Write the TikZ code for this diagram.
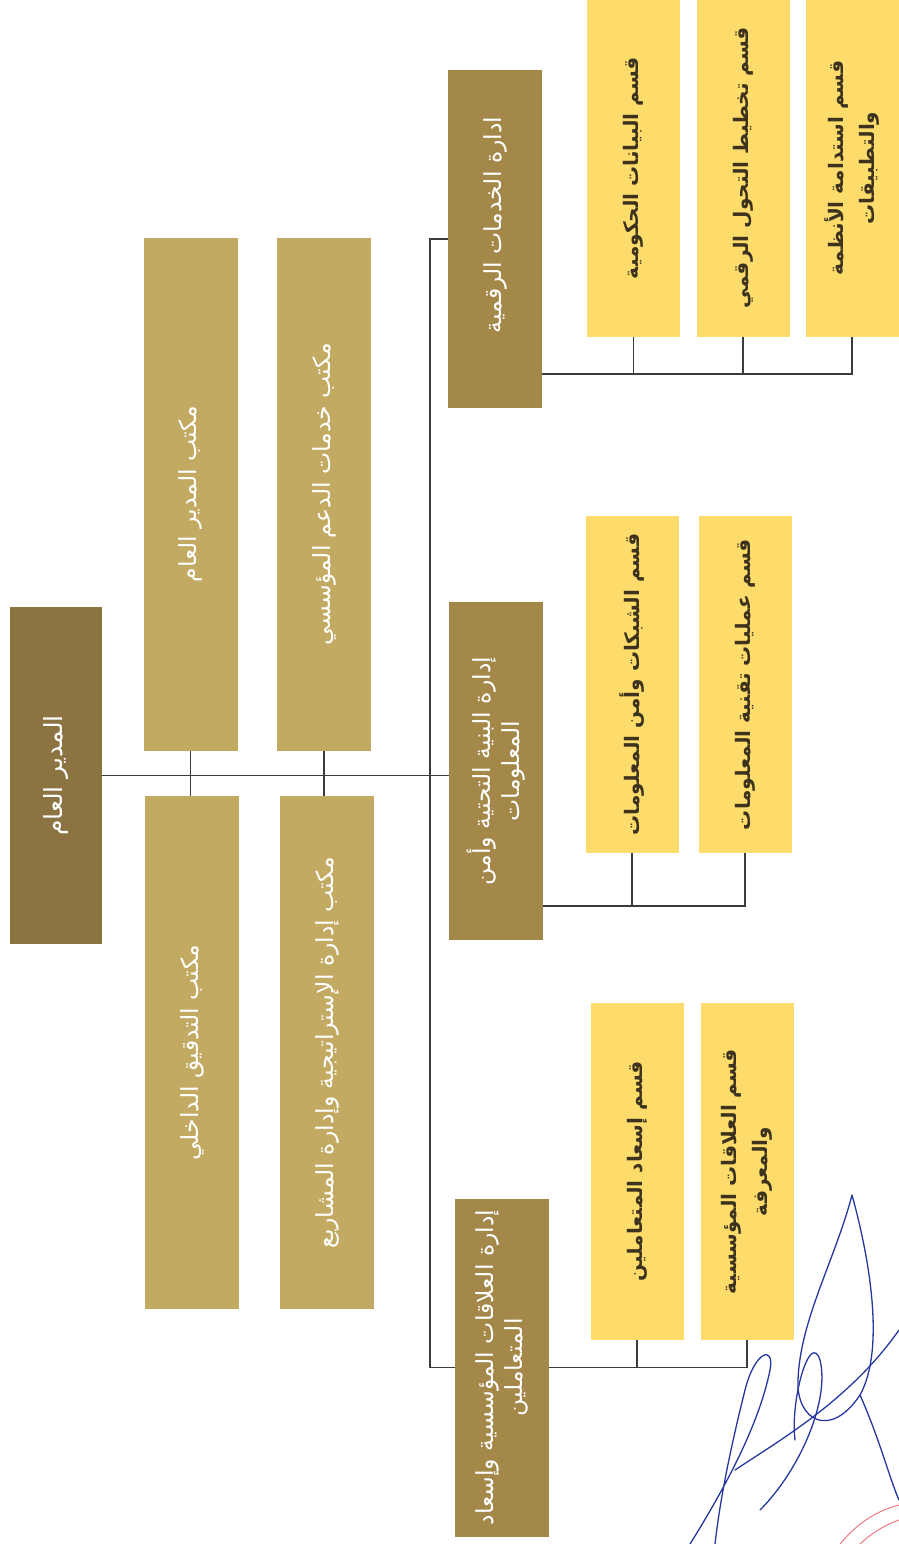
\documentclass[tikz,border=0pt]{standalone}
\usepackage{fontspec}
\TeXXeTstate=1
\newfontfamily\arabicfont[Script=Arabic]{DejaVu Sans}
\newcommand{\ar}[1]{\beginR #1\endR}
\definecolor{gmc}{RGB}{139,115,66}
\definecolor{depc}{RGB}{163,136,74}
\definecolor{offc}{RGB}{194,170,98}
\definecolor{yelc}{RGB}{254,220,108}
\definecolor{ytxt}{RGB}{60,50,30}
\definecolor{linec}{RGB}{60,60,60}
\definecolor{sigc}{RGB}{40,55,160}
\definecolor{stampc}{RGB}{235,120,130}
\tikzset{
  boxbase/.style={draw=none, inner sep=0pt, outer sep=0pt},
  gmbox/.style={boxbase, fill=gmc, minimum width=92pt, minimum height=337pt},
  offbox/.style={boxbase, fill=offc, minimum width=94pt, minimum height=513pt},
  depbox/.style={boxbase, fill=depc, minimum width=94pt, minimum height=338pt},
  yelbox/.style={boxbase, fill=yelc, minimum width=93pt, minimum height=337pt},
  wlbl/.style={rotate=90, align=center, inner sep=0pt, text=white,
    font=\arabicfont\fontsize{23.5}{29}\selectfont},
  ylbl/.style={rotate=90, align=center, inner sep=0pt, text=ytxt,
    font=\arabicfont\bfseries\fontsize{20}{31}\selectfont},
  conn/.style={draw=linec, line width=1.1pt},
  sig/.style={draw=sigc, line width=1.3pt, line cap=round}
}
\begin{document}
\begin{tikzpicture}[x=1pt,y=-1pt]
\useasboundingbox (0,0) rectangle (899,1544);
% general manager
\node[gmbox] (GM) at (56,775.5) {};
\node[wlbl, font=\arabicfont\fontsize{25}{28}\selectfont] (tGM) at (GM) {\ar{المدير العام}};
% offices
\node[offbox] (O1) at (190.5,494) {};
\node[offbox] (O2) at (324,494) {};
\node[offbox] (O3) at (192,1052.5) {};
\node[offbox] (O4) at (327,1052.5) {};
\node[wlbl] (tO1) at (O1) {\ar{مكتب المدير العام}};
\node[wlbl] (tO2) at (O2) {\ar{مكتب خدمات الدعم المؤسسي}};
\node[wlbl] (tO3) at (O3) {\ar{مكتب التدقيق الداخلي}};
\node[wlbl] (tO4) at (O4) {\ar{مكتب إدارة الإستراتيجية وإدارة المشاريع}};
% departments
\node[depbox] (D1) at (495,239) {};
\node[depbox] (D2) at (496,771) {};
\node[depbox] (D3) at (501.5,1367.5) {};
\node[wlbl] (tD1) at ([yshift=14pt]D1.center) {\ar{ادارة الخدمات الرقمية}};
\node[wlbl] (tD2) at (D2) {\ar{إدارة البنية التحتية وأمن}\\\ar{المعلومات}};
\node[wlbl] (tD3) at (D3) {\ar{إدارة العلاقات المؤسسية وإسعاد}\\\ar{المتعاملين}};
% sections
\node[yelbox] (Y1) at (633.5,168) {};
\node[yelbox] (Y2) at (743,168) {};
\node[yelbox] (Y3) at (852,168) {};
\node[yelbox] (Y4) at (632,684.5) {};
\node[yelbox] (Y5) at (745,684.5) {};
\node[yelbox] (Y6) at (637,1171.5) {};
\node[yelbox] (Y7) at (747,1171.5) {};
\node[ylbl] (tY1) at (Y1) {\ar{قسم البيانات الحكومية}};
\node[ylbl] (tY2) at (Y2) {\ar{قسم تخطيط التحول الرقمي}};
\node[ylbl] (tY3) at (Y3) {\ar{قسم استدامة الأنظمة}\\\ar{والتطبيقات}};
\node[ylbl] (tY4) at (Y4) {\ar{قسم الشبكات وأمن المعلومات}};
\node[ylbl] (tY5) at (Y5) {\ar{قسم عمليات تقنية المعلومات}};
\node[ylbl] (tY6) at (Y6) {\ar{قسم إسعاد المتعاملين}};
\node[ylbl] (tY7) at (Y7) {\ar{قسم العلاقات المؤسسية}\\\ar{والمعرفة}};
% connectors
\coordinate (T) at (430,775);
\draw[conn] (GM.east) -- (GM.east -| D2.west);
\draw[conn] (O1.south) -- (O1.south |- O3.north);
\draw[conn] (O2.south) -- (O2.south |- O4.north);
\draw[conn] (D1.west) -- (D1.west -| T) -- (D3.west -| T) -- (D3.west);
\coordinate (b1) at (852,374);
\draw[conn] (D1.east |- b1) -- (b1) -- (Y3.south);
\draw[conn] (Y1.south) -- (Y1.south |- b1);
\draw[conn] (Y2.south) -- (Y2.south |- b1);
\coordinate (b2) at (745,906);
\draw[conn] (D2.east |- b2) -- (b2) -- (Y5.south);
\draw[conn] (Y4.south) -- (Y4.south |- b2);
\draw[conn] (D3.east) -- (D3.east -| Y7.south) -- (Y7.south);
\draw[conn] (Y6.south) -- (Y6.south |- D3.east);
% signature
\draw[sig] (852,1195) .. controls (835,1260) and (800,1320) .. (798,1380)
  .. controls (796,1420) and (830,1440) .. (860,1395)
  .. controls (885,1350) and (870,1260) .. (852,1195);
\draw[sig] (690,1544) .. controls (730,1480) and (760,1420) .. (770,1370)
  .. controls (775,1345) and (755,1350) .. (745,1390)
  .. controls (730,1450) and (720,1500) .. (715,1544);
\draw[sig] (735,1470) .. controls (780,1440) and (850,1400) .. (899,1330);
\draw[sig] (760,1510) .. controls (800,1470) and (830,1400) .. (820,1360)
  .. controls (810,1330) and (790,1400) .. (795,1440);
\draw[sig] (860,1395) .. controls (880,1440) and (890,1480) .. (899,1500);
% stamp fragment
\draw[draw=stampc, line width=1pt] (840,1544) .. controls (860,1520) and (880,1510) .. (899,1505);
\draw[draw=stampc, line width=1pt] (860,1544) .. controls (875,1530) and (888,1524) .. (899,1520);
\end{tikzpicture}
\end{document}
